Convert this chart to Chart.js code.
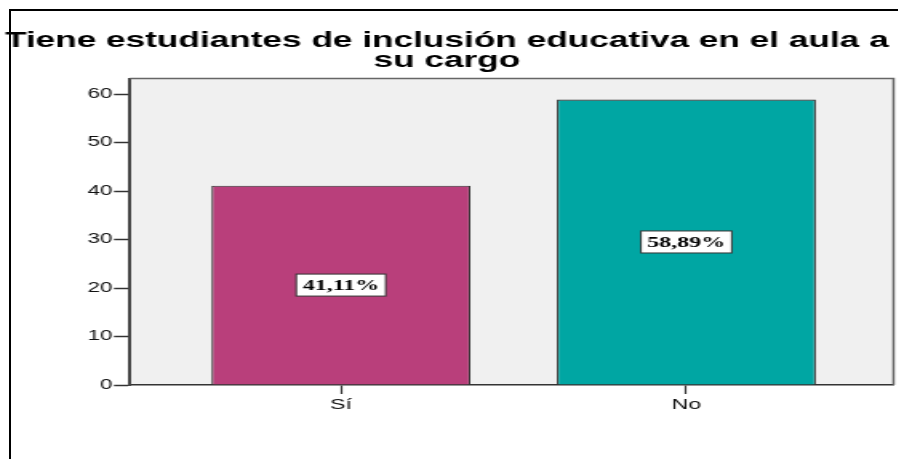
<!DOCTYPE html>
<html>
<head>
<meta charset="utf-8">
<script src="https://cdn.jsdelivr.net/npm/chart.js@4/dist/chart.umd.min.js"></script>
<style>
html, body { margin: 0; padding: 0; background: #fff; overflow: hidden; }
#marco {
    position: absolute;
    left: 9px;
    top: 9px;
    width: 1000px;
    height: 600px;
    border-left: 2px solid #000;
    border-top: 2px solid #000;
}
/* el original está estirado en horizontal */
#lienzo {
    position: absolute;
    left: 0;
    top: 0;
    width: 561px;
    height: 459px;
    transform: scaleX(1.6);
    transform-origin: 0 0;
}
</style>
</head>
<body>
<div id="marco"></div>
<div id="lienzo">
    <canvas id="grafico" width="561" height="459"></canvas>
</div>

<script>
// Datos
const categorias = ['Sí', 'No'];
const porcentajes = [41.11, 58.89];
const colores = ['#b93f7b', '#00a6a3'];
const ticksY = [0, 10, 20, 30, 40, 50, 60];

// Fondo gris del área de trazado y borde superior/derecho
const fondoArea = {
    id: 'fondoArea',
    beforeDraw(chart) {
        const { ctx, chartArea: a } = chart;
        ctx.save();
        ctx.fillStyle = '#f0f0f0';
        ctx.fillRect(a.left, a.top, a.right - a.left, a.bottom - a.top);
        ctx.restore();
    },
    afterDraw(chart) {
        const { ctx, chartArea: a } = chart;
        ctx.save();
        ctx.strokeStyle = '#666';
        ctx.lineWidth = 1.5;
        ctx.beginPath();
        ctx.moveTo(a.left, a.top);
        ctx.lineTo(a.right, a.top);
        ctx.lineTo(a.right, a.bottom);
        ctx.stroke();
        ctx.restore();
    }
};

// Etiquetas con recuadro blanco en el centro de cada barra
const etiquetas = {
    id: 'etiquetas',
    afterDatasetsDraw(chart) {
        const ctx = chart.ctx;
        const meta = chart.getDatasetMeta(0);
        ctx.save();
        ctx.font = 'bold 15px "Liberation Serif", "Times New Roman", serif';
        ctx.textAlign = 'center';
        ctx.textBaseline = 'middle';
        meta.data.forEach((barra, i) => {
            const texto = porcentajes[i].toFixed(2).replace('.', ',') + '%';
            const y = (barra.y + barra.base) / 2;
            const w = ctx.measureText(texto).width + 8;
            const h = 22;
            ctx.fillStyle = '#fff';
            ctx.fillRect(barra.x - w / 2, y - h / 2, w, h);
            ctx.strokeStyle = '#333';
            ctx.lineWidth = 1;
            ctx.strokeRect(barra.x - w / 2, y - h / 2, w, h);
            ctx.fillStyle = '#000';
            ctx.fillText(texto, barra.x, y + 1);
        });
        ctx.restore();
    }
};

new Chart(document.getElementById('grafico').getContext('2d'), {
    type: 'bar',
    data: {
        datasets: [{
            data: porcentajes.map((v, i) => ({ x: i, y: v })),
            backgroundColor: colores,
            borderColor: '#333',
            borderWidth: 1.2,
            barPercentage: 0.75,
            categoryPercentage: 1
        }]
    },
    options: {
        responsive: false,
        animation: false,
        devicePixelRatio: 1,
        layout: {
            padding: { top: 0, right: 2.5, bottom: 0, left: 0 }
        },
        plugins: {
            legend: { display: false },
            tooltip: { enabled: false },
            title: {
                display: true,
                text: ['Tiene estudiantes de inclusión educativa en el aula a', 'su cargo'],
                color: '#000',
                font: { family: '"Liberation Sans", Arial, sans-serif', size: 22, weight: 'bold', lineHeight: 0.91 },
                padding: { top: 31, bottom: 7.5 }
            }
        },
        scales: {
            x: {
                type: 'linear',
                offset: false,
                min: -0.611,
                max: 1.6,
                afterBuildTicks(scale) {
                    scale.ticks = categorias.map((c, i) => ({ value: i }));
                },
                afterFit(scale) {
                    scale.height = 74;
                },
                ticks: {
                    callback: v => categorias[v],
                    color: '#111',
                    font: { family: '"Liberation Sans", Arial, sans-serif', size: 14.5 },
                    padding: 2,
                    maxRotation: 0
                },
                grid: {
                    offset: false,
                    drawOnChartArea: false,
                    tickLength: 9,
                    tickColor: '#333',
                    tickWidth: 1.2
                },
                border: { color: '#333', width: 1.5 }
            },
            y: {
                min: 0,
                max: 63.2,
                afterBuildTicks(scale) {
                    scale.ticks = ticksY.map(v => ({ value: v }));
                },
                afterFit(scale) {
                    scale.width = 81.25;
                },
                ticks: {
                    color: '#111',
                    font: { family: '"Liberation Sans", Arial, sans-serif', size: 14 },
                    padding: 1
                },
                grid: {
                    drawOnChartArea: false,
                    tickLength: 10,
                    tickColor: '#333',
                    tickWidth: 1.5
                },
                border: { color: '#444', width: 2 }
            }
        }
    },
    plugins: [fondoArea, etiquetas]
});
</script>
</body>
</html>
